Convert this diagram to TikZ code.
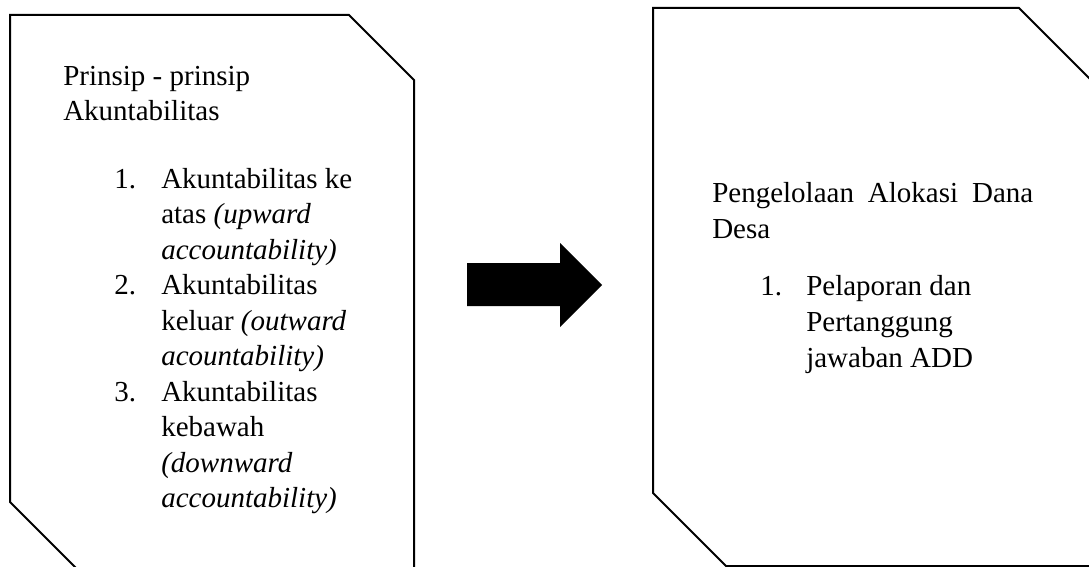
\documentclass[tikz,border=0pt]{standalone}
\usepackage{fontspec}
\setmainfont{Liberation Serif}
\begin{document}
\begin{tikzpicture}[x=0.75pt,y=-0.75pt,
  ln/.style={anchor=base west, inner sep=0pt, font=\fontsize{21.75}{27}\selectfont},
  box/.style={draw=black, line width=1.5pt, line join=miter},
  blockarrow/.style={fill=black, draw=none}]
\useasboundingbox (0,0) rectangle (1089,567);
\begin{scope}
  \clip (0,0) rectangle (1089,567);
  % left box
  \draw[box] (10,15) -- (349,15) -- (414,80) -- (414,620) -- (128,620) -- (10,502) -- cycle;
  % right box
  \draw[box] (653,8) -- (1019,8) -- (1140,129) -- (1140,566) -- (726,566) -- (653,493) -- cycle;
\end{scope}
% block arrow
\fill[blockarrow] (467,263) -- (560,263) -- (560,243) -- (602,285) -- (560,327) -- (560,306) -- (467,306) -- cycle;
% left text
\node[ln] (lh1) at (63,85) {Prinsip - prinsip};
\node[ln] (lh2) at (63,120.5) {Akuntabilitas};
\node[ln] (ln1) at (114,188) {1.};
\node[ln] (la1) at (161,188) {Akuntabilitas ke};
\node[ln] (la2) at (161,223.5) {atas \textit{(upward}};
\node[ln] (la3) at (161,259) {\textit{accountability)}};
\node[ln] (ln2) at (114,294.5) {2.};
\node[ln] (lb1) at (161,294.5) {Akuntabilitas};
\node[ln] (lb2) at (161,330) {keluar \textit{(outward}};
\node[ln] (lb3) at (161,365.5) {\textit{acountability)}};
\node[ln] (ln3) at (114,401) {3.};
\node[ln] (lc1) at (161,401) {Akuntabilitas};
\node[ln] (lc2) at (161,436.5) {kebawah};
\node[ln] (lc3) at (161,472) {\textit{(downward}};
\node[ln] (lc4) at (161,507.5) {\textit{accountability)}};
% right text
\node[ln] (rh1) at (712,202) {\makebox[240.75pt][s]{Pengelolaan Alokasi Dana}};
\node[ln] (rh2) at (712,238) {Desa};
\node[ln] (rn1) at (760,295) {1.};
\node[ln] (ra1) at (806,295) {Pelaporan dan};
\node[ln] (ra2) at (806,331) {Pertanggung};
\node[ln] (ra3) at (806,367) {jawaban ADD};
\end{tikzpicture}
\end{document}
